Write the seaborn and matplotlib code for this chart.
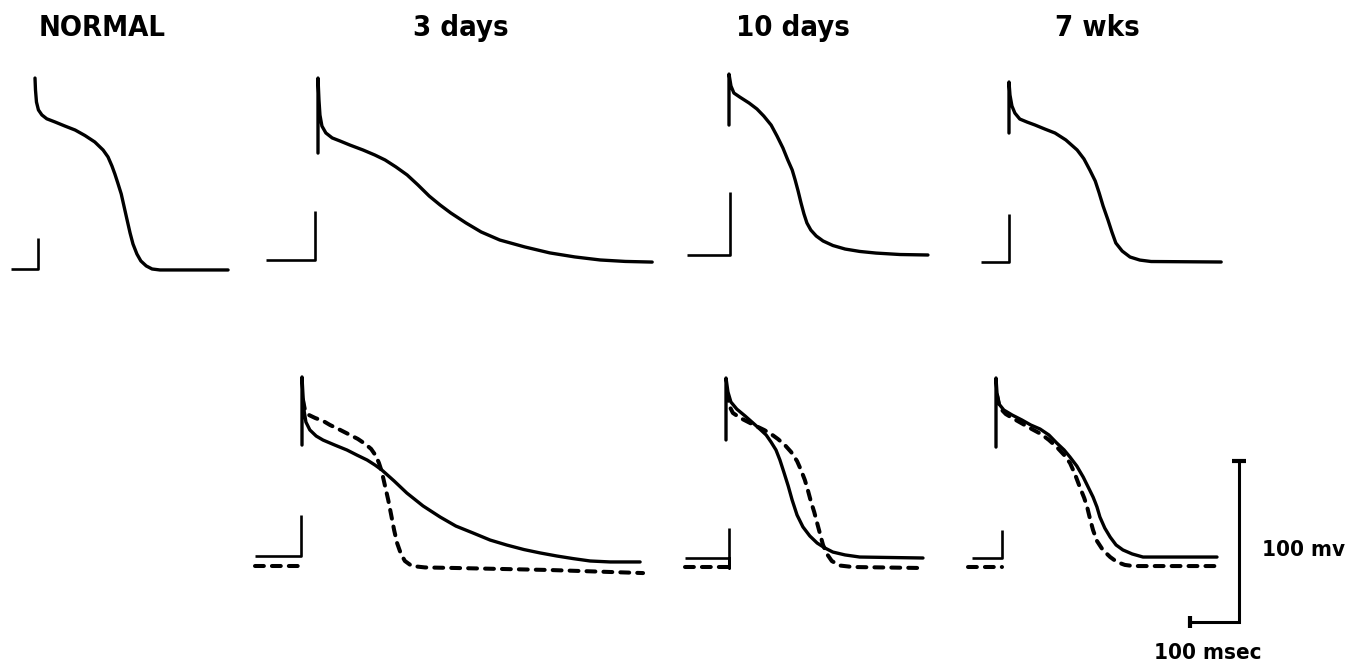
import matplotlib
matplotlib.use("Agg")
import matplotlib.pyplot as plt
import seaborn as sns

sns.set_theme(style="white")
plt.rcParams['font.family'] = ['DejaVu Sans']

# ---------------- data (time in msec from upstroke, potential in mV) ----------------
titles = ["NORMAL", "3 days", "10 days", "7 wks"]
scale_labels = ["100 mv", "100 msec"]

# top row: single recordings
normal_t = [0, 1, 3, 7, 14, 24, 41, 61, 82, 102, 122, 139, 149, 157, 163, 169, 176, 182,
            188, 194, 200, 208, 216, 227, 239, 255, 394]
normal_v = [28.6, 21.2, 13.7, 8.8, 5.7, 3.3, 1.3, -1.2, -3.7, -7.1, -11.1, -16.1, -20.4, -26.0,
            -31.0, -36.6, -43.4, -51.5, -59.6, -67.6, -74.5, -80.7, -85.0, -88.1, -90, -90.6, -90.6]
normal_base_t = [-50, 7, 7]
normal_base_v = [-90, -90, -71]

d3_t = [0, 0, 2, 4, 8, 16, 29, 45, 65, 92, 116, 137, 159, 182, 204, 227, 249, 271, 302, 333,
        371, 422, 473, 524, 576, 627, 682]
d3_v = [-23.9, 22.7, 8.9, -0.3, -7.1, -11.4, -14.5, -16.4, -18.9, -22.0, -25.1, -28.2, -32.5,
        -37.5, -43.7, -50.6, -56.1, -61.1, -67.3, -72.9, -77.9, -82.2, -85.9, -88.4, -90.3,
        -91.2, -91.6]
d3_base_t = [-106, -6, -6]
d3_base_v = [-90, -90, -60]

d10_t = [0, 0, 4, 10, 22, 41, 57, 71, 86, 98, 110, 120, 129, 135, 141, 147, 153, 159, 167,
         178, 192, 212, 237, 267, 300, 349, 406]
d10_v = [-9.3, 22.4, 15.0, 10.6, 8.1, 4.4, 0.7, -3.7, -9.3, -16.1, -23.5, -31.0, -37.2, -43.4,
         -50.2, -57.7, -64.5, -70.1, -74.5, -78.2, -81.3, -84.1, -86.3, -87.8, -88.8, -89.7, -90]
d10_base_t = [-86, 2, 2]
d10_base_v = [-90, -90, -51]

w7_t = [0, 0, 2, 6, 12, 22, 37, 53, 73, 94, 116, 139, 153, 165, 176, 184, 192, 202, 210,
        218, 231, 247, 267, 290, 433]
w7_v = [-9.9, 21.8, 13.7, 6.9, 2.5, -1.2, -3.1, -4.9, -7.4, -9.9, -14.2, -20.4, -26.0, -32.9,
        -39.7, -47.1, -55.2, -63.9, -71.4, -78.2, -83.2, -86.9, -88.8, -89.7, -90]
w7_base_t = [-57, 0, 0]
w7_base_v = [-90, -90, -60]

# bottom row: solid and dashed recordings
d3b_solid_t = [0, 0, 2, 4, 8, 16, 29, 43, 67, 92, 112, 133, 149, 163, 188, 214, 247, 282,
               314, 349, 384, 418, 453, 486, 520, 553, 588, 629, 690]
d3b_solid_v = [-21.1, 21.2, 10.0, 0.7, -6.8, -11.7, -15.5, -18.0, -21.1, -24.2, -27.3, -30.4,
               -33.5, -36.6, -43.4, -50.9, -58.9, -65.8, -71.4, -75.7, -80.1, -83.2, -86.0,
               -88.1, -90.0, -91.6, -93.1, -93.7, -93.7]
d3b_dash_t = [2, 6, 14, 27, 43, 57, 78, 98, 114, 129, 141, 151, 157, 163, 169, 176, 182, 188,
              194, 202, 210, 224, 251, 322, 506, 696]
d3b_dash_v = [6.9, 0.7, -2.4, -4.3, -6.1, -8.6, -11.7, -14.8, -17.3, -20.4, -23.5, -27.9,
              -32.2, -37.8, -45.9, -55.2, -64.5, -73.9, -81.9, -88.8, -93.1, -96.2, -97.1,
              -97.5, -98.7, -100.6]
d3b_base_t = [-96, -2, -2]
d3b_base_v = [-90, -90, -64.5]
d3b_dbase_t = [-96, -4]
d3b_dbase_v = [-96.2, -96.2]

d10b_solid_t = [0, 0, 4, 10, 22, 39, 55, 69, 82, 92, 102, 110, 118, 127, 135, 145, 157, 171,
                186, 202, 218, 243, 273, 402]
d10b_solid_v = [-16.7, 21.8, 13.1, 6.9, 2.5, -1.8, -6.1, -9.9, -13.6, -18.0, -22.9, -29.1,
                -36.6, -45.3, -54.0, -63.3, -70.7, -76.3, -80.7, -83.8, -86.3, -88.1, -89.4, -90]
d10b_dash_t = [2, 6, 14, 29, 45, 61, 78, 92, 106, 120, 133, 145, 153, 161, 167, 173, 180, 186,
               192, 198, 206, 216, 233, 259, 396]
d10b_dash_v = [13.1, 5.0, 0.1, -3.0, -5.5, -8.0, -10.5, -13.0, -16.1, -19.8, -24.2, -29.8,
               -35.3, -41.6, -47.8, -54.6, -61.4, -68.3, -75.1, -81.9, -87.5, -91.9, -94.7,
               -95.6, -96.2]
d10b_base_t = [-84, 6, 6, 6]
d10b_base_v = [-90, -90, -96, -71.4]
d10b_dbase_t = [-84, 4]
d10b_dbase_v = [-95.6, -95.6]

w7b_solid_t = [0, 0, 2, 6, 16, 33, 53, 71, 90, 108, 124, 139, 151, 165, 178, 188, 198, 206,
               212, 222, 233, 245, 259, 278, 300, 451]
w7b_solid_v = [-21.1, 21.8, 12.5, 5.7, 1.9, -1.2, -4.3, -7.4, -9.9, -13.6, -18.6, -22.9, -27.3,
               -32.9, -39.7, -45.9, -52.1, -58.3, -64.5, -71.4, -77.0, -81.9, -85.0, -87.5,
               -89.4, -89.4]
w7b_dash_t = [2, 8, 20, 37, 55, 73, 92, 108, 124, 139, 151, 161, 171, 180, 186, 192, 198, 206,
              218, 233, 247, 263, 280, 451]
w7b_dash_v = [11.2, 3.2, -0.6, -3.7, -6.8, -9.9, -13.0, -16.7, -21.1, -26.0, -31.0, -37.8,
              -45.9, -52.7, -58.3, -65.8, -72.6, -79.4, -85.0, -89.4, -92.5, -94.3, -95.0, -95.0]
w7b_base_t = [-49, 12, 12]
w7b_base_v = [-90, -90, -72.6]
w7b_dbase_t = [-57, 12]
w7b_dbase_v = [-95.6, -95.6]

# calibration bar: 100 msec by 100 mV
scale_t = [0, 100, 100]
scale_v = [0, 0, 100]

# ---------------- layout ----------------
W, H = 1366, 666
PX_PER_MS = 0.49
PX_PER_MV = 1.61

fig = plt.figure(figsize=(W / 100, H / 100), dpi=100)
fig.patch.set_facecolor("white")


def panel(x0, y0, v0, left, top, right, bottom):
    """axes covering a pixel box; (x0, y0) is the pixel of time 0 / potential v0"""
    ax = fig.add_axes([left / W, 1 - bottom / H, (right - left) / W, (bottom - top) / H])
    ax.set_xlim((left - x0) / PX_PER_MS, (right - x0) / PX_PER_MS)
    ax.set_ylim(v0 - (bottom - y0) / PX_PER_MV, v0 + (y0 - top) / PX_PER_MV)
    ax.axis("off")
    ax.patch.set_alpha(0)
    return ax


SOLID = dict(color="black", lw=2.4, solid_capstyle="round", solid_joinstyle="round")
THIN = dict(color="black", lw=1.9, solid_capstyle="butt")
DASH = dict(color="black", lw=2.9, linestyle=(0, (2.2, 2.0)), dash_capstyle="round",
            dash_joinstyle="round")


def trace(ax, t, v, kw):
    sns.lineplot(x=t, y=v, ax=ax, sort=False, estimator=None, errorbar=None, legend=False, **kw)


# top row
ax = panel(35, 269, -90, 0, 60, 260, 300)
trace(ax, normal_t, normal_v, SOLID)
trace(ax, normal_base_t, normal_base_v, THIN)

ax = panel(318, 259.5, -90, 250, 60, 680, 300)
trace(ax, d3_t, d3_v, SOLID)
trace(ax, d3_base_t, d3_base_v, THIN)

ax = panel(729, 255, -90, 670, 60, 960, 300)
trace(ax, d10_t, d10_v, SOLID)
trace(ax, d10_base_t, d10_base_v, THIN)

ax = panel(1009, 262, -90, 960, 60, 1250, 300)
trace(ax, w7_t, w7_v, SOLID)
trace(ax, w7_base_t, w7_base_v, THIN)

# bottom row
ax = panel(302, 556, -90, 240, 350, 680, 600)
trace(ax, d3b_solid_t, d3b_solid_v, SOLID)
trace(ax, d3b_dash_t, d3b_dash_v, DASH)
trace(ax, d3b_base_t, d3b_base_v, THIN)
trace(ax, d3b_dbase_t, d3b_dbase_v, DASH)

ax = panel(726, 558, -90, 670, 350, 960, 600)
trace(ax, d10b_solid_t, d10b_solid_v, SOLID)
trace(ax, d10b_dash_t, d10b_dash_v, DASH)
trace(ax, d10b_base_t, d10b_base_v, THIN)
trace(ax, d10b_dbase_t, d10b_dbase_v, DASH)

ax = panel(996, 558, -90, 950, 350, 1240, 600)
trace(ax, w7b_solid_t, w7b_solid_v, SOLID)
trace(ax, w7b_dash_t, w7b_dash_v, DASH)
trace(ax, w7b_base_t, w7b_base_v, THIN)
trace(ax, w7b_dbase_t, w7b_dbase_v, DASH)

# calibration bar
ax = panel(1190, 622, 0, 1150, 430, 1260, 640)
trace(ax, scale_t, scale_v, dict(color="black", lw=2.2, solid_joinstyle="miter"))
ax.plot([scale_t[-1]], [scale_v[-1]], marker="_", ms=10, mew=3, color="black")
ax.plot([scale_t[0]], [scale_v[0]], marker="|", ms=9, mew=3, color="black")

# ---------------- text ----------------
TFONT = dict(family="DejaVu Sans", weight="bold", stretch="condensed", color="black")

title_pos = [(39, 28, "left"), (461, 28, "center"), (793, 28, "center"), (1097, 28, "center")]
for (x, y, ha), s in zip(title_pos, titles):
    fig.text(x / W, 1 - y / H, s, ha=ha, va="center", fontsize=21, **TFONT)

fig.text(1303 / W, 1 - 550 / H, scale_labels[0], ha="center", va="center", fontsize=16, **TFONT)
fig.text(1208 / W, 1 - 653 / H, scale_labels[1], ha="center", va="center", fontsize=16, **TFONT)

fig.savefig("out.png", dpi=100, facecolor="white")
